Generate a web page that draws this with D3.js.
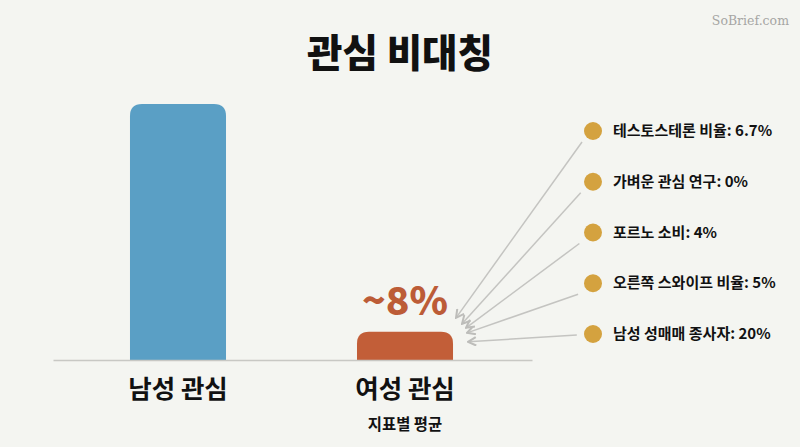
<!DOCTYPE html>
<html>
<head>
<meta charset="utf-8">
<script src="https://cdnjs.cloudflare.com/ajax/libs/d3/7.8.5/d3.min.js"></script>
<style>
  html, body { margin: 0; padding: 0; background: #f4f5f1; }
  svg { display: block; }
  text { font-family: "Noto Sans CJK KR", sans-serif; fill: #111; }
</style>
</head>
<body>
<svg id="chart" width="800" height="447"></svg>
<script>
var categories = ["남성 관심", "여성 관심"];
var barValues = [100, 11];
var barColors = ["#5a9fc5", "#c25e38"];

var driverNames = ["테스토스테론 비율", "가벼운 관심 연구", "포르노 소비", "오른쪽 스와이프 비율", "남성 성매매 종사자"];
var driverValues = ["6.7%", "0%", "4%", "5%", "20%"];

// where each arrow lands, relative to the top right corner of the small bar
var tipOffsets = [[3, -14], [9, -8], [13, -4], [14, 1], [15, 10]];

var svg = d3.select("#chart");

var x = d3.scaleBand().domain(categories).range([53, 532]).paddingInner(0.577).paddingOuter(0.3435).align(0.4936);
var y = d3.scaleLinear().domain([0, 100]).range([360, 104]);
var rowY = d3.scalePoint().domain(driverNames).range([131, 334]);

// top-rounded bar
function barPath(d, i) {
  var x0 = x(categories[i]), w = x.bandwidth(), top = y(d), base = y(0), r = 12;
  return "M" + x0 + "," + base + "V" + (top + r) + "Q" + x0 + "," + top + " " + (x0 + r) + "," + top +
    "H" + (x0 + w - r) + "Q" + (x0 + w) + "," + top + " " + (x0 + w) + "," + (top + r) + "V" + base + "Z";
}

svg.append("defs").append("marker")
  .attr("id", "tip")
  .attr("viewBox", "0 0 10 10")
  .attr("refX", 9).attr("refY", 5)
  .attr("markerWidth", 10).attr("markerHeight", 10)
  .attr("markerUnits", "userSpaceOnUse")
  .attr("orient", "auto")
  .append("path")
  .attr("d", "M1,0.8L9,5L1,9.2")
  .attr("fill", "none")
  .attr("stroke", "#bdbdba")
  .attr("stroke-width", 2);

svg.append("text")
  .attr("x", 400).attr("y", 67)
  .attr("text-anchor", "middle")
  .attr("font-size", 38.5).attr("font-weight", 900)
  .text("관심 비대칭");

svg.append("text")
  .attr("x", 789).attr("y", 25)
  .attr("text-anchor", "end")
  .attr("font-size", 12.5)
  .style("font-family", "'DejaVu Serif', serif")
  .style("fill", "#a6a6a4")
  .text("SoBrief.com");

svg.selectAll(".bar")
  .data(barValues)
  .join("path")
  .attr("class", "bar")
  .attr("d", barPath)
  .attr("fill", function(d, i) { return barColors[i]; });

var axis = svg.append("g")
  .attr("transform", "translate(0," + y(0) + ")")
  .call(d3.axisBottom(x).tickSize(0).tickSizeOuter(0).tickPadding(20));
axis.select(".domain").attr("stroke", "#c8c8c4").attr("stroke-width", 1.5);
axis.selectAll(".tick text")
  .attr("font-size", 25.5).attr("font-weight", 700)
  .style("font-family", "'Noto Sans CJK KR', sans-serif")
  .style("fill", "#111");

var femaleCenter = x(categories[1]) + x.bandwidth() / 2;

svg.append("text")
  .attr("x", femaleCenter).attr("y", 430)
  .attr("text-anchor", "middle")
  .attr("font-size", 15.4).attr("font-weight", 700)
  .text("지표별 평균");

svg.append("text")
  .attr("x", femaleCenter).attr("y", 315)
  .attr("text-anchor", "middle")
  .attr("font-size", 39).attr("font-weight", 900)
  .style("fill", "#bc5c37")
  .text("~8%");

var cornerX = x(categories[1]) + x.bandwidth();
var cornerY = y(barValues[1]);

svg.selectAll(".arrow")
  .data(driverNames)
  .join("line")
  .attr("class", "arrow")
  .attr("x1", function(d, i) { return 582 - i * 1.3; })
  .attr("y1", function(d) { return rowY(d) + (rowY(d) < 300 ? 11 : 1); })
  .attr("x2", function(d, i) { return cornerX + tipOffsets[i][0]; })
  .attr("y2", function(d, i) { return cornerY + tipOffsets[i][1]; })
  .attr("stroke", "#c4c4c1")
  .attr("stroke-width", 1.5)
  .attr("marker-end", "url(#tip)");

svg.selectAll(".dot")
  .data(driverNames)
  .join("circle")
  .attr("class", "dot")
  .attr("cx", 593)
  .attr("cy", function(d) { return rowY(d); })
  .attr("r", 9)
  .attr("fill", "#d4a23f");

svg.selectAll(".driver")
  .data(driverNames)
  .join("text")
  .attr("class", "driver")
  .attr("x", 613)
  .attr("y", function(d) { return rowY(d) + 5; })
  .attr("font-size", 15).attr("font-weight", 700)
  .text(function(d, i) { return d + ": " + driverValues[i]; });
</script>
</body>
</html>
